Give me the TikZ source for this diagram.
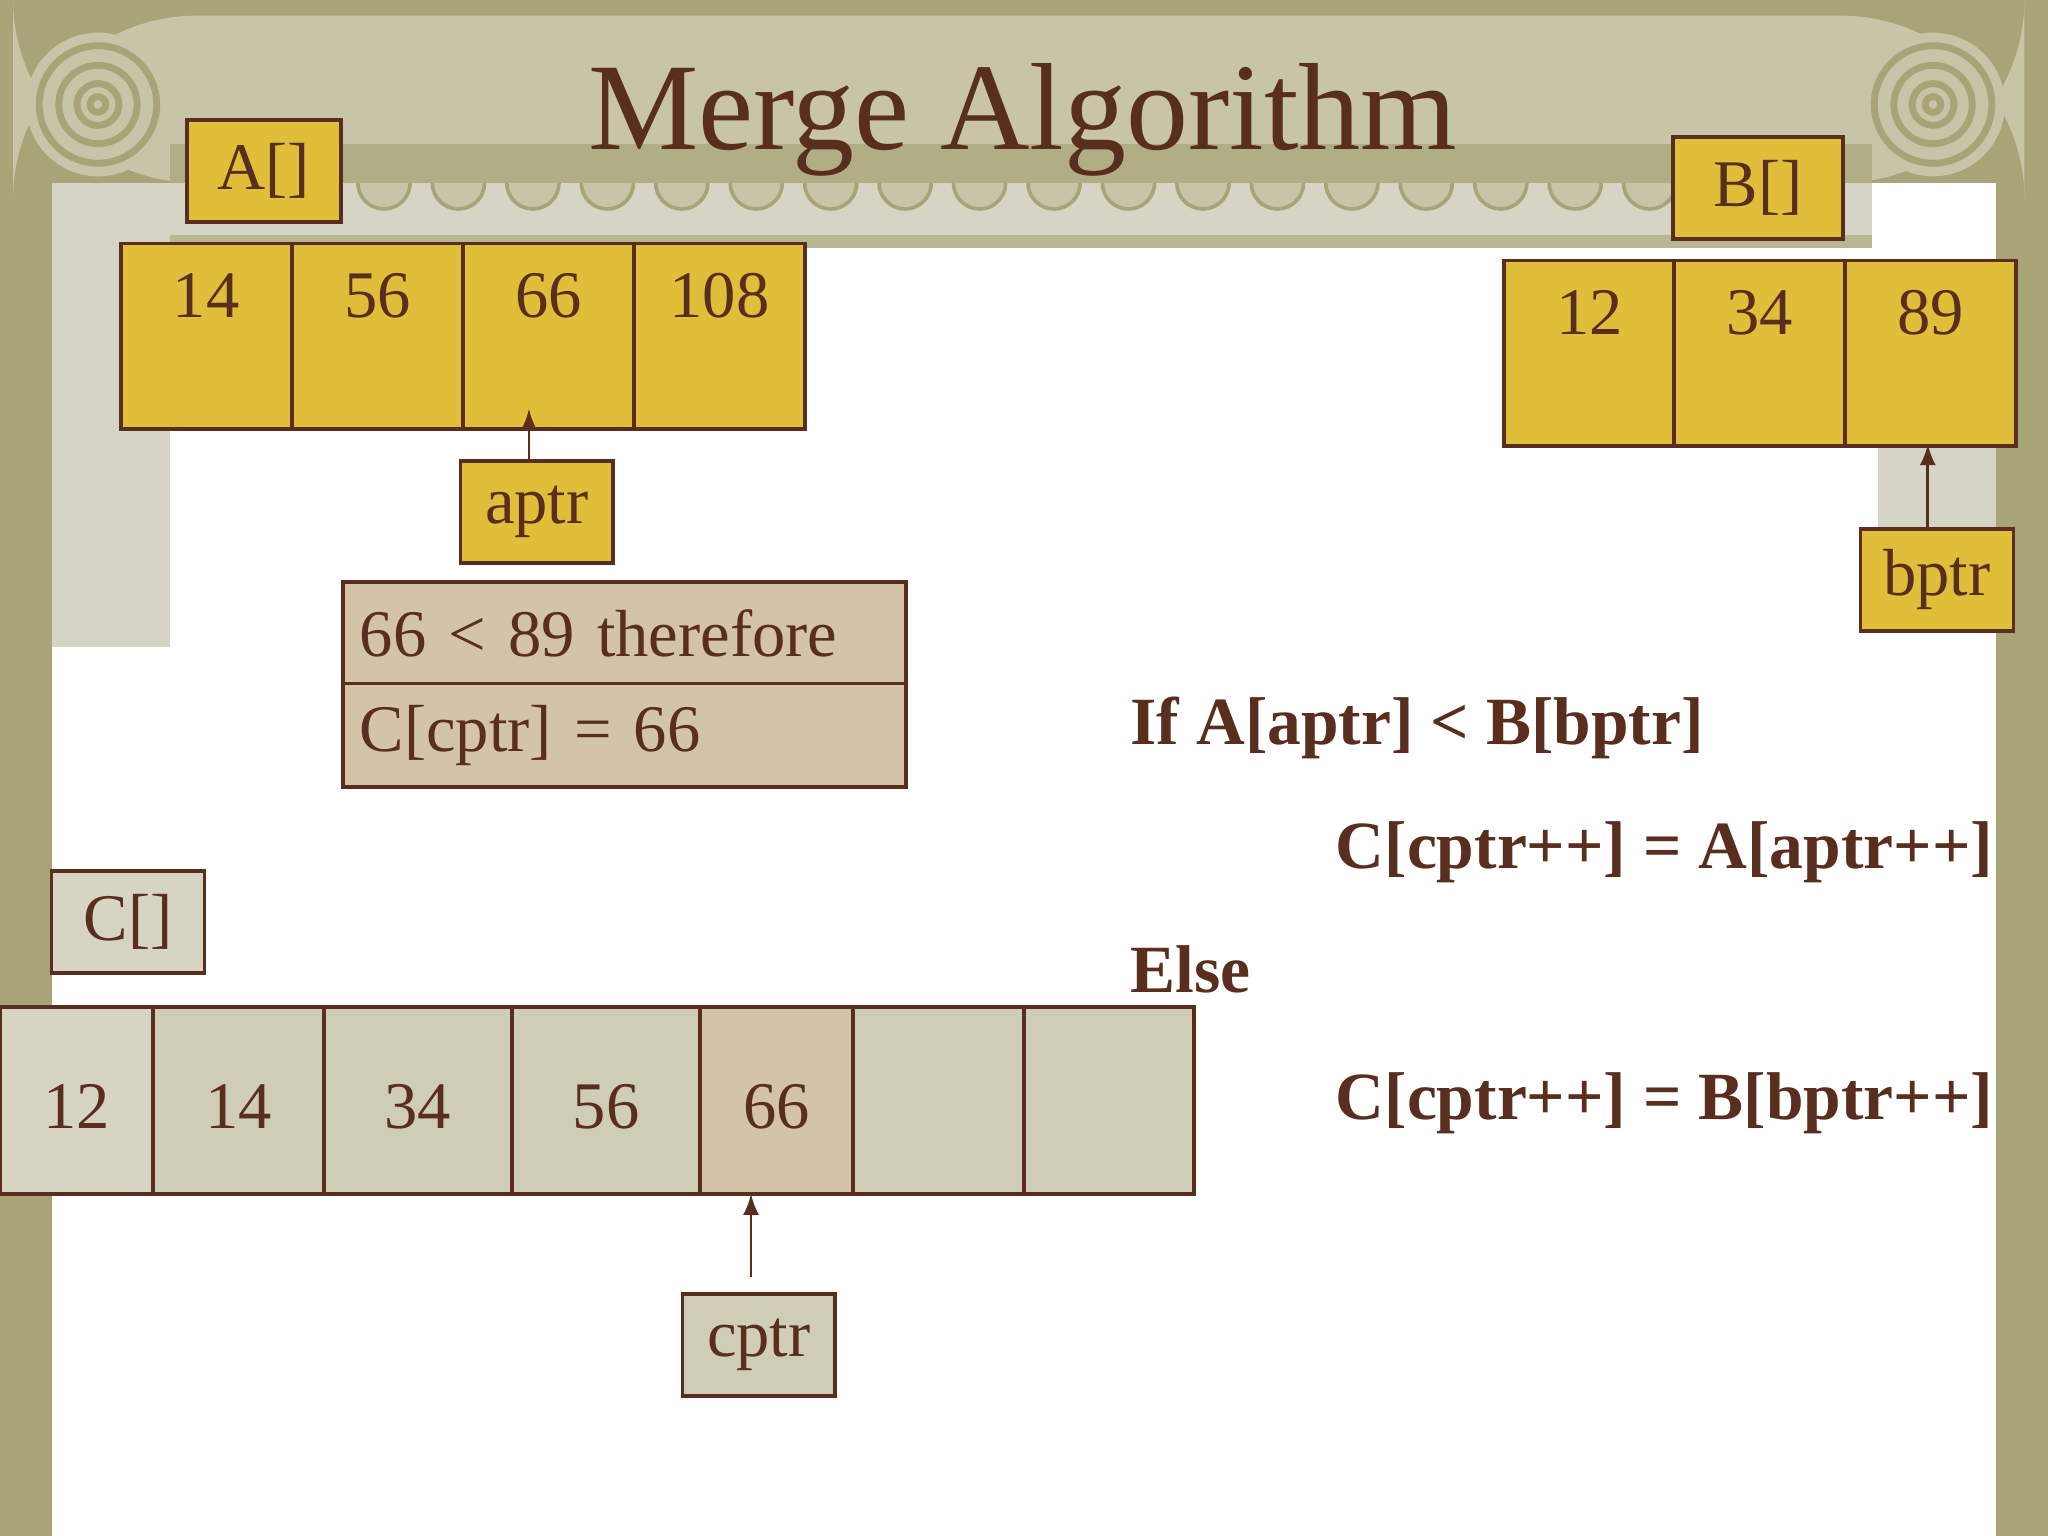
\documentclass[tikz,border=0pt]{standalone}
\usepackage{fontspec}
\setmainfont{Liberation Serif}
\begin{document}
\begin{tikzpicture}[x=0.01cm,y=-0.01cm]
\definecolor{olive}{RGB}{168,164,120}
\definecolor{capit}{RGB}{200,196,168}
\definecolor{pill}{RGB}{214,212,196}
\definecolor{gold}{RGB}{224,190,58}
\definecolor{brn}{RGB}{90,46,30}
\definecolor{tan}{RGB}{211,195,167}
\definecolor{cg}{RGB}{207,205,181}
\definecolor{cl}{RGB}{216,212,196}
\tikzset{cell/.style={draw=brn,line width=0.8pt,minimum width=#1*0.01cm,minimum height=1.42cm,inner sep=0pt,font=\fontsize{14.5}{17}\selectfont,text=brn},
 lab/.style={draw=brn,line width=0.8pt,minimum height=0.78cm,inner sep=0pt,font=\fontsize{14.5}{17}\selectfont,text=brn},
 ptr/.style={-latex,draw=brn,line width=0.6pt},
 code/.style={anchor=base west,font=\bfseries\fontsize{14.7}{17}\selectfont,text=brn,inner sep=0pt},
 cmp/.style={draw=brn,fill=tan,line width=0.8pt,minimum width=4.31cm,minimum height=0.79cm,anchor=north west,font=\fontsize{14.5}{17}\selectfont,text=brn,text width=4.05cm,align=left}}
\useasboundingbox (0,0) rectangle (1568,1176);
\fill[olive] (0,0) rectangle (1568,1176);
\fill[white] (40,140) rectangle (1528,1176);
\fill[pill] (40,140) rectangle (130,495);
\fill[pill] (130,140) rectangle (1433,190);
\fill[pill] (1438,340) rectangle (1528,480);
\fill[olive!80!white] (130,180) rectangle (1433,190);
\fill[capit,rounded corners=40] (10,12) rectangle (1550,140);
\fill[olive!70!capit] (130,110) rectangle (1433,140);
\foreach \i in {0,...,21} \draw[olive,line width=0.8pt,fill=capit] (160+\i*57,140) arc (180:0:20);
\foreach \cx in {75,1480}{
 \fill[capit] (\cx,80) circle (55);
 \draw[olive,line width=1.5pt] (\cx,80) circle (45) (\cx,80) circle (30) (\cx,80) circle (16) (\cx,80) circle (6);}
\node[font=\fontsize{27}{32}\selectfont,text=brn] (title) at (783,92) {Merge Algorithm};
% A
\node[lab,fill=gold,minimum width=1.18cm] (Al) at (202,131) {A[]};
\foreach \v [count=\i] in {14,56,66,108}
 \node[cell=131,fill=gold,anchor=north west,text depth=0.62cm] (a\i) at ({91+(\i-1)*131},185) {\v};
\node[lab,fill=gold,minimum width=1.17cm] (aptr) at (411,392) {aptr};
\draw[ptr] (405,353) -- (405,313);
\node[cmp] (cmp1) at (261,444) {66 < 89 therefore};
\node[cmp] (cmp2) at (261,522) {C[cptr] = 66};
% B
\node[lab,fill=gold,minimum width=1.3cm] (Bl) at (1346,144) {B[]};
\foreach \v [count=\i] in {12,34,89}
 \node[cell=131,fill=gold,anchor=north west,text depth=0.62cm] (b\i) at ({1150+(\i-1)*130.5},198) {\v};
\node[lab,fill=gold,minimum width=1.17cm] (bptr) at (1483,444) {bptr};
\draw[ptr] (1476,405) -- (1476,340);
% code
\node[code] (l1) at (865,570) {If A[aptr] < B[bptr]};
\node[code] (l2) at (1022,665) {C[cptr++] = A[aptr++]};
\node[code] (l3) at (865,760) {Else};
\node[code] (l4) at (1022,857) {C[cptr++] = B[bptr++]};
% C
\node[lab,fill=cl,minimum width=1.17cm] (Cl) at (98,706) {C[]};
\def\cxs{{0,117,248,392,536,653,784,914}}
\foreach \v/\f [count=\i] in {12/cl,14/cg,34/cg,56/cg,66/tan,/cg,/cg}{
 \pgfmathsetmacro\xa{\cxs[\i-1]}\pgfmathsetmacro\xb{\cxs[\i]}
 \draw[brn,line width=0.8pt,fill=\f] (\xa,771) rectangle (\xb,914);
 \node[font=\fontsize{14.5}{17}\selectfont,text=brn] (c\i) at ({(\xa+\xb)/2},847) {\v};}
\node[lab,fill=cg,minimum width=1.17cm] (cptr) at (581,1030) {cptr};
\draw[ptr] (575,978) -- (575,914);
\end{tikzpicture}
\end{document}
